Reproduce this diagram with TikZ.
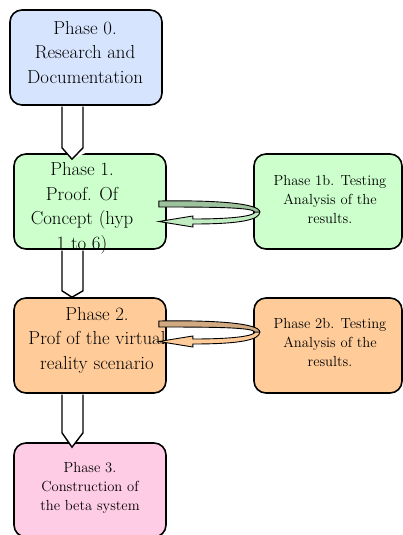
\documentclass[tikz,border=0pt]{standalone}
\usetikzlibrary{calc}
\definecolor{pblue}{HTML}{D6E4FE}
\definecolor{pgreen}{HTML}{CCFFCC}
\definecolor{porange}{HTML}{FFCC99}
\definecolor{ppink}{HTML}{FFCCE6}
\definecolor{dgreen}{HTML}{9DC09D}
\definecolor{dorange}{HTML}{D2AA82}
\tikzset{
  phasebox/.style={draw=black, line width=1.6pt, rounded corners=12pt, minimum width=152pt, minimum height=95pt, inner sep=0pt},
  bigtxt/.style={align=center, font=\fontsize{18.8}{24.5}\selectfont, inner sep=0pt},
  smalltxt/.style={align=center, font=\fontsize{14.6}{19}\selectfont, inner sep=0pt},
  downarrow/.style={fill=white, draw=black, line width=1.4pt, line join=miter},
  bandlight/.style={draw=black, line width=0.9pt},
  banddark/.style={draw=black, line width=0.9pt},
}
\begin{document}
\begin{tikzpicture}[x=1pt,y=-1pt]
\useasboundingbox (0,0) rectangle (403,535);
% boxes
\node[phasebox, fill=pblue] (p0) at (86,57.5) {};
\node[phasebox, fill=pgreen] (p1) at (90,201.5) {};
\node[phasebox, fill=pgreen, minimum width=148pt] (p1b) at (328,201.5) {};
\node[phasebox, fill=porange] (p2) at (90,345.5) {};
\node[phasebox, fill=porange, minimum width=148pt] (p2b) at (328,345.5) {};
\node[phasebox, fill=ppink, minimum height=94pt] (p3) at (90,490) {};
% texts
\node[bigtxt] (t0) at (85,52.5) {Phase 0.\\Research and\\Documentation};
\node[bigtxt] (t1) at (82,208.5) {Phase 1.\\Proof. Of\\Concept (hyp\\1 to 6)};
\node[bigtxt] (t2) at (97,340) {Phase 2.\\Prof of the virtual\\reality scenario};
\node[smalltxt] (t1b) at (330,200) {Phase 1b. Testing\\Analysis of the\\results.};
\node[smalltxt] (t2b) at (330,343) {Phase 2b. Testing\\Analysis of the\\results.};
\node[smalltxt] (t3) at (90,488) {Phase 3.\\Construction of\\the beta system};
% down block arrows
\fill[white] ($(p0.south)+(-10.5,1)$) -- ($(p0.south)+(-10.5,42)$) -- ($(p1.north)+(-18,6)$) -- ($(p0.south)+(10.5,42)$) -- ($(p0.south)+(10.5,1)$) -- cycle;
\draw[downarrow] ($(p0.south)+(-24,0.8)$) -- ($(p0.south)+(-24,42)$) -- ($(p1.north)+(-18,6)$) -- ($(p0.south)+(-3,42)$) -- ($(p0.south)+(-3,0.8)$);
\fill[white] ($(p1.south)+(-28,0.8)$) rectangle ($(p1.south)+(-7,41)$);
\draw[downarrow] ($(p1.south)+(-28,0.8)$) -- ($(p1.south)+(-28,41)$) -- ($(p2.north)+(-18,0)$) -- ($(p1.south)+(-7,41)$) -- ($(p1.south)+(-7,0.8)$);
\fill[white] ($(p2.south)+(-28,0.8)$) -- ($(p2.south)+(-28,39)$) -- ($(p3.north)+(-18,5)$) -- ($(p2.south)+(-7,39)$) -- ($(p2.south)+(-7,0.8)$) -- cycle;
\draw[downarrow] ($(p2.south)+(-28,0.8)$) -- ($(p2.south)+(-28,39)$) -- ($(p3.north)+(-18,5)$) -- ($(p2.south)+(-7,39)$) -- ($(p2.south)+(-7,0.8)$);
% curved arrows phase 1 <-> 1b
\begin{scope}[shift={(p1.east)}]
\draw[bandlight, fill=pgreen!85!gray] (88,10.5) .. controls (88,14) and (70,17.5) .. (26,17.5) -- (26,14.5) -- (-8,20) -- (26,25.5) -- (26,22.5) .. controls (75,22.5) and (93,18) .. (93,10.5) -- cycle;
\draw[banddark, fill=dgreen] (-8,-0.5) .. controls (50,-1.5) and (93,2) .. (93,10.5) -- (88,10.5) .. controls (86,6) and (50,5.5) .. (-8,5.5) -- cycle;
\end{scope}
% curved arrows phase 2 <-> 2b
\begin{scope}[shift={($(p2.east)+(0,-24)$)}]
\draw[bandlight, fill=porange] (88,10.5) .. controls (88,14) and (70,17.5) .. (26,17.5) -- (26,14.5) -- (-8,20) -- (26,25.5) -- (26,22.5) .. controls (75,22.5) and (93,18) .. (93,10.5) -- cycle;
\draw[banddark, fill=dorange] (-8,-0.5) .. controls (50,-1.5) and (93,2) .. (93,10.5) -- (88,10.5) .. controls (86,6) and (50,5.5) .. (-8,5.5) -- cycle;
\end{scope}
\end{tikzpicture}
\end{document}
